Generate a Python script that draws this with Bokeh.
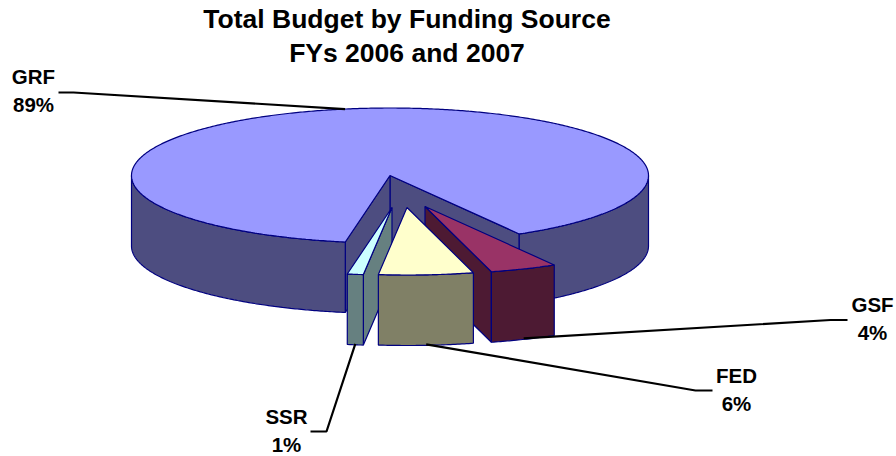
import numpy as np
from bokeh.plotting import figure
from bokeh.embed import file_html
from bokeh.resources import INLINE
from bokeh.core.properties import value

# ---- data (drawing order of the slices, clockwise from the lower right)
sources = ["GSF", "FED", "SSR", "GRF"]
shares = [4.2, 5.9, 1.0, 88.9]
top_colors = ["#993366", "#FFFFCC", "#CCFFFF", "#9999FF"]
side_colors = ["#4D1A33", "#808066", "#668080", "#4D4D80"]
title_lines = ["Total Budget by Funding Source", "FYs 2006 and 2007"]

# ---- layout constants (pixels of the page)
CX, CY, RX, RY, DEPTH = 389.5, 175.0, 258.5, 67.5, 70.5
START = 60.0
EXPLODE = {"GSF": (35, 31), "FED": (17, 32), "SSR": (2, 32), "GRF": (0, 0)}
LABEL_POS = {"GRF": (33, 76), "GSF": (872, 304), "FED": (736, 375), "SSR": (286, 416)}
KNEES = {"GRF": ((73, 92), (58, 92)), "GSF": ((830, 319.5), (847, 319.5)),
         "FED": ((695, 390), (712, 390)), "SSR": ((326, 431), (310, 431))}
OUTLINE = "#000080"
EDGE = 1.2

W, H = 896, 456
p = figure(width=W, height=H, x_range=(0, W), y_range=(H, 0),
           output_backend="svg", toolbar_location=None, min_border=0)
p.axis.visible = False
p.grid.visible = False
p.outline_line_color = None


def rim(cx, cy, deg):
    t = np.radians(deg)
    return cx + RX * np.cos(t), cy + RY * np.sin(t)


def arc(cx, cy, a0, a1):
    n = max(2, int(abs(a1 - a0) * 2))
    t = np.radians(np.linspace(a0, a1, n))
    return cx + RX * np.cos(t), cy + RY * np.sin(t)


def face(cx, cy, deg, color):
    rx, ry = rim(cx, cy, deg)
    p.patch([cx, rx, rx, cx], [cy, ry, ry + DEPTH, cy + DEPTH],
            fill_color=color, line_color=OUTLINE, line_width=EDGE)


def wall(cx, cy, a0, a1, color):
    xs, ys = arc(cx, cy, a0, a1)
    p.patch(np.r_[xs, xs[::-1]], np.r_[ys, ys[::-1] + DEPTH],
            fill_color=color, line_color=OUTLINE, line_width=EDGE)


def slice_geom():
    a = START
    out = {}
    for s, v in zip(sources, shares):
        out[s] = (a, a + v * 3.6)
        a += v * 3.6
    return out


geom = slice_geom()
idx = {s: i for i, s in enumerate(sources)}


def draw_slice(s):
    a0, a1 = geom[s]
    i = idx[s]
    dx, dy = EXPLODE[s]
    cx, cy = CX + dx, CY + dy
    # cut faces that look towards the viewer
    if np.cos(np.radians(a1 % 360)) > 0:
        face(cx, cy, a1, side_colors[i])
    if np.cos(np.radians(a0 % 360)) < 0:
        face(cx, cy, a0, side_colors[i])
    # outer wall: only where the rim is on the front half
    for lo, hi in ((0, 180), (360, 540)):
        b0, b1 = max(a0, lo), min(a1, hi)
        if b1 > b0:
            wall(cx, cy, b0, b1, side_colors[i])
    xs, ys = arc(cx, cy, a0, a1)
    p.patch(np.r_[cx, xs], np.r_[cy, ys], fill_color=top_colors[i],
            line_color=OUTLINE, line_width=EDGE)


for s in ["GRF", "GSF", "SSR", "FED"]:
    draw_slice(s)

# leaders and labels
for s, v in zip(sources, shares):
    a0, a1 = geom[s]
    mid = (a0 + a1) / 2
    dx, dy = EXPLODE[s]
    sx, sy = rim(CX + dx, CY + dy, mid)
    if np.sin(np.radians(mid)) > 0:
        sy += DEPTH - 1
    knee, end = KNEES[s]
    p.line([sx, knee[0], end[0]], [sy, knee[1], end[1]],
           line_color="black", line_width=2.2)
    lx, ly = LABEL_POS[s]
    p.text([lx, lx], [ly, ly + 28], text=[s, f"{round(v)}%"],
           text_font=value("Liberation Sans"), text_font_style="bold",
           text_font_size="20.5px", text_align="center",
           text_baseline="middle", text_color="black")

p.text([406.5, 406.5], [18.5, 52.5], text=title_lines,
       text_font=value("Liberation Sans"), text_font_style="bold",
       text_font_size="26.5px", text_align="center",
       text_baseline="middle", text_color="black")

open("out.html", "w").write(file_html(p, INLINE))
